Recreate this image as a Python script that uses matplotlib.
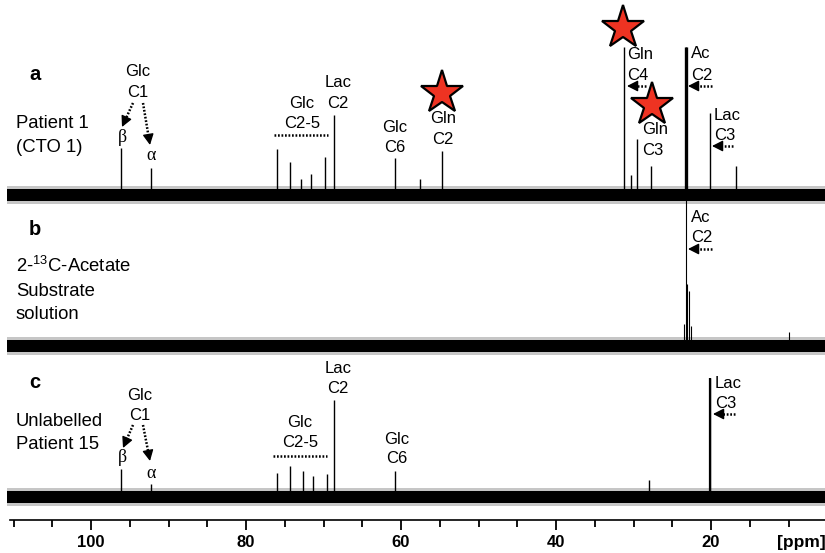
import matplotlib
matplotlib.use('Agg')
import matplotlib.pyplot as plt
import numpy as np

plt.rcParams['font.family'] = ['Liberation Sans', 'DejaVu Sans']
plt.rcParams['mathtext.fontset'] = 'custom'
plt.rcParams['mathtext.rm'] = 'Liberation Sans'

# ---------------- data ----------------
ppm_major_ticks = [100, 80, 60, 40, 20]
ppm_minor_ticks = [110, 105, 95, 90, 85, 75, 70, 65, 55, 50, 45, 35, 30, 25, 15, 10]

# panel a : Patient 1 (CTO 1)
a_ppm = [96.1, 92.3, 76.0, 74.3, 72.9, 71.6, 69.8, 68.6, 60.8, 57.5, 54.7,
         31.2, 30.3, 29.5, 27.7, 23.2, 20.1, 16.8]
a_height = [47, 27, 46, 33, 16, 21, 38, 80, 37, 16, 44,
            148, 20, 56, 29, 148, 82, 29]

# panel b : 2-13C-acetate substrate solution
b_ppm = [23.2, 23.05, 22.85, 23.5, 22.6, 9.9]
b_height = [154, 62, 55, 22, 20, 14]

# panel c : unlabelled patient 15
c_ppm = [96.1, 92.3, 76.0, 74.3, 72.6, 71.4, 69.6, 68.6, 60.8, 28.0, 20.1]
c_height = [28, 13, 24, 31, 26, 21, 23, 97, 26, 17, 119]

# ---------------- layout helpers ----------------
W, H = 825, 553
def X(px):
    """horizontal pixel position -> ppm"""
    return 100 - (px - 91) / 7.75

base_a, base_b, base_c = 195, 346, 497

fig = plt.figure(figsize=(W / 100, H / 100), dpi=100)
ax = fig.add_axes([0, 0, 1, 1])
ax.set_xlim(X(0), X(W))
ax.set_ylim(H, 0)

# noise bands
for base in (base_a, base_b, base_c):
    xs = [X(7), X(W)]
    ax.fill_between(xs, base - 9, base + 9, color='#444444', alpha=0.3, lw=0)
    ax.fill_between(xs, base - 6, base + 6, color='black', lw=0)

# peaks
ax.vlines(a_ppm, [base_a - h for h in a_height], base_a, color='black', lw=1.0)
ax.vlines([23.2], [base_a - 148], base_a, color='black', lw=2.4)
ax.vlines(b_ppm, [base_b - h for h in b_height], base_b, color='black', lw=0.8)
ax.vlines(c_ppm, [base_c - h for h in c_height], base_c, color='black', lw=1.0)
ax.vlines([20.1], [base_c - 119], base_c, color='black', lw=1.6)

# axis
for s in ('top', 'left', 'right'):
    ax.spines[s].set_visible(False)
ax.spines['bottom'].set_position(('data', 520))
ax.spines['bottom'].set_bounds(X(10), X(W))
ax.spines['bottom'].set_linewidth(1.2)
ax.set_yticks([])
ax.set_xticks(ppm_major_ticks)
ax.set_xticks(ppm_minor_ticks, minor=True)
ax.tick_params(axis='x', which='major', direction='out', length=7.5, width=1.3,
               pad=3, labelsize=12)
ax.tick_params(axis='x', which='minor', direction='out', length=5, width=1.3)
for lbl in ax.get_xticklabels():
    lbl.set_fontweight('bold')
ax.text(X(777), 542, '[ppm]', fontsize=12.5, fontweight='bold', ha='left', va='center')

fs = 12
big = 13.3

def lab(px, y, s, ha='center', size=fs, **kw):
    ax.text(X(px), y, s, ha=ha, va='baseline', fontsize=size, **kw)

def dotted_arrow(x0, y0, x1, y1):
    dx, dy = x1 - x0, y1 - y0
    L = (dx * dx + dy * dy) ** 0.5
    ux, uy = dx / L, dy / L
    # dotted shaft
    ax.plot([X(x0), X(x1 - 6 * ux)], [y0, y1 - 6 * uy], color='black', lw=1.8,
            linestyle=(0, (0.7, 0.7)))
    # solid head
    ax.annotate('', xy=(X(x1), y1), xytext=(X(x1 - 7 * ux), y1 - 7 * uy),
                arrowprops=dict(arrowstyle='-|>,head_length=0.65,head_width=0.33',
                                color='black', lw=1.0, mutation_scale=10,
                                shrinkA=0, shrinkB=0))

def star(px, y):
    ax.plot([X(px)], [y], marker='*', ms=32.5, mfc='#EE3322', mec='black',
            mew=1.6, zorder=5)

def greek(px, y, s):
    ax.text(X(px), y, s, ha='center', va='center', fontsize=13,
            family=['Liberation Serif', 'DejaVu Serif'])

# ----- panel a -----
lab(35, 80, 'a', size=14.5, fontweight='bold')
lab(16, 128, 'Patient 1', ha='left', size=big)
lab(16, 152, '(CTO 1)', ha='left', size=big)
lab(138, 76, 'Glc'); lab(138, 97, 'C1')
greek(122, 137, 'β'); greek(151, 155, 'α')
dotted_arrow(133, 103, 122, 127)
dotted_arrow(143, 103, 150, 145)
lab(302, 108, 'Glc'); lab(302, 128, 'C2-5')
ax.plot([X(274), X(328)], [135, 135], color='black', lw=1.8, linestyle=(0, (0.7, 0.7)))
lab(338, 87, 'Lac'); lab(338, 108, 'C2')
lab(395, 132, 'Glc'); lab(395, 152, 'C6')
star(442, 93)
lab(443, 123, 'Gln'); lab(443, 144, 'C2')
star(623, 28)
lab(627, 59, 'Gln', ha='left'); lab(627, 80, 'C4', ha='left')
dotted_arrow(646, 86, 627, 86)
star(652, 105)
lab(642, 134, 'Gln', ha='left'); lab(642, 155, 'C3', ha='left')
lab(691, 58, 'Ac', ha='left'); lab(691, 80, 'C2', ha='left')
dotted_arrow(712, 86, 688, 86)
lab(714, 120, 'Lac', ha='left'); lab(714, 140, 'C3', ha='left')
dotted_arrow(733, 146, 712, 146)

# ----- panel b -----
lab(35, 235, 'b', size=14.5, fontweight='bold')
lab(16, 272, '2-$^{\\mathrm{13}}$C-Acetate', ha='left', size=big)
lab(16, 296, 'Substrate', ha='left', size=big)
lab(16, 319, 'solution', ha='left', size=big)
lab(691, 222, 'Ac', ha='left'); lab(691, 242, 'C2', ha='left')
dotted_arrow(712, 249, 688, 249)

# ----- panel c -----
lab(35, 388, 'c', size=14.5, fontweight='bold')
lab(16, 426, 'Unlabelled', ha='left', size=big)
lab(16, 449, 'Patient 15', ha='left', size=big)
lab(140, 400, 'Glc'); lab(140, 420, 'C1')
greek(122, 458, 'β'); greek(151, 473, 'α')
dotted_arrow(133, 425, 123, 448)
dotted_arrow(143, 425, 150, 461)
lab(338, 373, 'Lac'); lab(338, 393, 'C2')
lab(300, 427, 'Glc'); lab(300, 447, 'C2-5')
ax.plot([X(273), X(327)], [456, 456], color='black', lw=1.8, linestyle=(0, (0.7, 0.7)))
lab(397, 444, 'Glc'); lab(397, 463, 'C6')
lab(715, 388, 'Lac', ha='left'); lab(715, 408, 'C3', ha='left')
dotted_arrow(735, 414, 713, 414)

fig.savefig('out.png', dpi=100)
